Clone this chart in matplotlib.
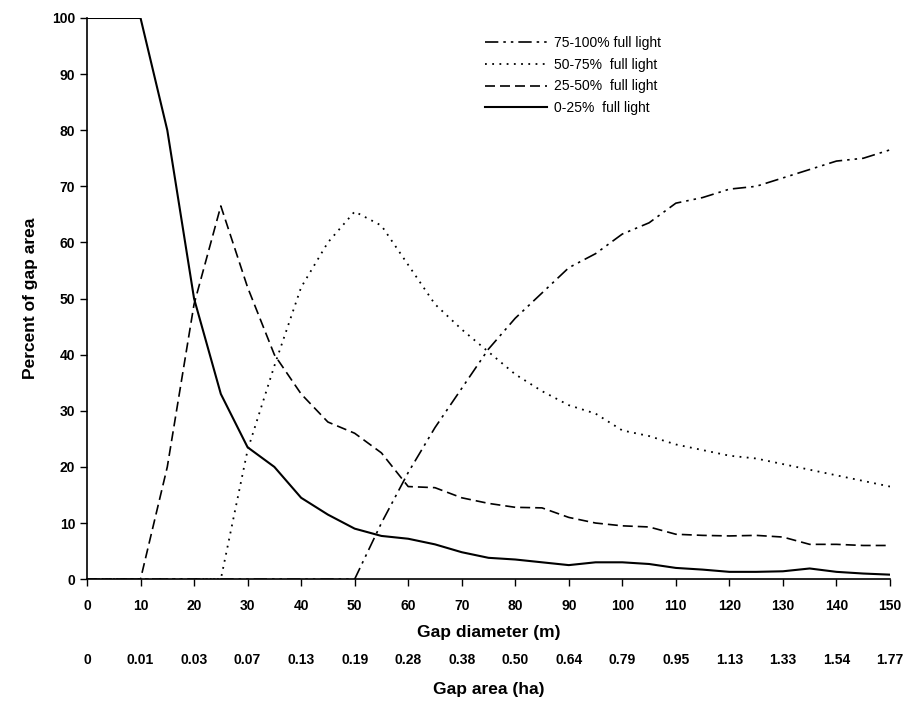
import numpy as np
import matplotlib.pyplot as plt

plt.rcParams['font.family'] = ['Liberation Sans', 'DejaVu Sans']

diam = np.arange(0, 155, 5)

light_0_25 = [100, 100, 100, 80, 50, 33, 23.5, 20, 14.5, 11.5, 9, 7.7, 7.2, 6.2, 4.8, 3.8,
              3.5, 3, 2.5, 3, 3, 2.7, 2, 1.7, 1.3, 1.3, 1.4, 1.9, 1.3, 1.0, 0.8]
light_25_50 = [0, 0, 0, 20, 49, 66.5, 52, 40, 33, 28, 26, 22.5, 16.5, 16.3, 14.5, 13.5,
               12.8, 12.7, 11, 10, 9.5, 9.3, 8, 7.8, 7.7, 7.8, 7.5, 6.2, 6.2, 6, 6]
light_50_75 = [0, 0, 0, 0, 0, 0, 23, 38, 52, 60, 65.5, 63, 56, 49, 44.5, 40.5,
               36.5, 33.5, 31, 29.5, 26.5, 25.5, 24, 23, 22, 21.5, 20.5, 19.5, 18.5, 17.5, 16.5]
light_75_100 = [0, 0, 0, 0, 0, 0, 0, 0, 0, 0, 0, 10, 19, 27, 34, 41,
                46.5, 51, 55.5, 58, 61.5, 63.5, 67, 68, 69.5, 70, 71.5, 73, 74.5, 75, 76.5]

diam_ticks = np.arange(0, 160, 10)
area_labels = ['0', '0.01', '0.03', '0.07', '0.13', '0.19', '0.28', '0.38', '0.50',
               '0.64', '0.79', '0.95', '1.13', '1.33', '1.54', '1.77']

fig = plt.figure(figsize=(9.1, 7.08), dpi=100)
ax = fig.add_axes([0.0956, 0.182, 0.8824, 0.7926])

ax.plot(diam, light_75_100, color='black', lw=1.2, ls=(0, (8, 3, 1.5, 3, 1.5, 3)),
        label='75-100% full light')
ax.plot(diam, light_50_75, color='black', lw=1.3, ls=(0, (1, 3)),
        label='50-75%  full light')
ax.plot(diam, light_25_50, color='black', lw=1.2, ls=(0, (6, 3)),
        label='25-50%  full light')
ax.plot(diam, light_0_25, color='black', lw=1.5, ls='-',
        label='0-25%  full light')

ax.set_xlim(0, 150)
ax.set_ylim(0, 100)
ax.set_xticks(diam_ticks)
ax.set_yticks(np.arange(0, 110, 10))
for s in ['top', 'right']:
    ax.spines[s].set_visible(False)
ax.spines['left'].set_linewidth(1.2)
ax.spines['bottom'].set_linewidth(1.2)
ax.tick_params(axis='both', direction='out', length=5, width=1, labelsize=10)
ax.tick_params(axis='x', pad=9)
for lab in ax.get_xticklabels() + ax.get_yticklabels():
    lab.set_fontweight('bold')
ax.set_xlabel('Gap diameter (m)', fontsize=12.5, fontweight='bold', labelpad=9)
ax.set_ylabel('Percent of gap area', fontsize=12.5, fontweight='bold', labelpad=10)

sec = ax.secondary_xaxis('bottom')
sec.spines['bottom'].set_position(('outward', 50))
sec.spines['bottom'].set_visible(False)
sec.set_xticks(diam_ticks)
sec.set_xticklabels(area_labels, fontsize=10, fontweight='bold')
sec.tick_params(axis='x', length=0, pad=3)
sec.set_xlabel('Gap area (ha)', fontsize=12.5, fontweight='bold', labelpad=11)

ax.legend(loc='upper left', bbox_to_anchor=(0.48, 0.99), frameon=False, fontsize=10,
          handlelength=4.5, handletextpad=0.5, labelspacing=0.55)

fig.savefig('out.png', dpi=100)
